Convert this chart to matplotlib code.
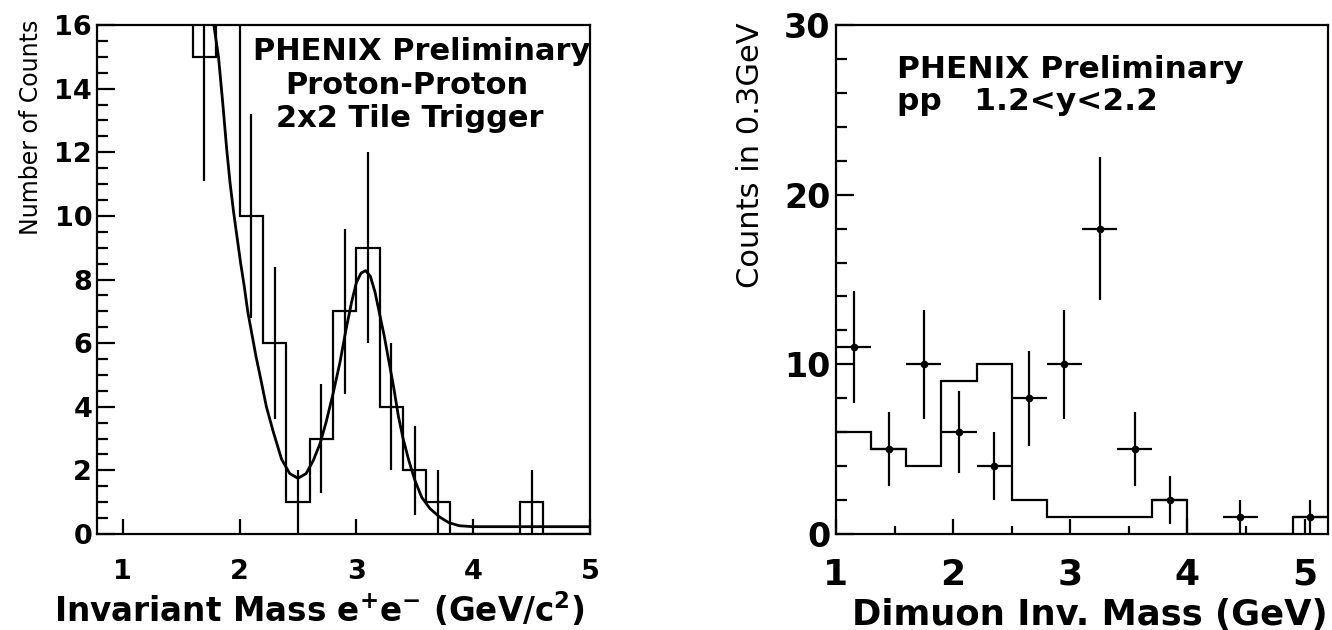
import matplotlib
matplotlib.use("Agg")
import matplotlib.pyplot as plt
from matplotlib.ticker import MultipleLocator, FixedLocator

plt.rcParams["font.family"] = ["DejaVu Sans"]
plt.rcParams["mathtext.default"] = "bf"

# ---- e+e- invariant mass (left) ----
ee_edges = [1.4, 1.6, 1.8, 2.0, 2.2, 2.4, 2.6, 2.8, 3.0, 3.2, 3.4, 3.6,
            3.8, 4.0, 4.2, 4.4, 4.6, 4.8, 5.0]
ee_counts = [24, 15, 22, 10, 6, 1, 3, 7, 9, 4, 2, 1, 0, 0, 0, 1, 0, 0]
ee_errors = [4.9, 3.9, 4.7, 3.2, 2.4, 1.0, 1.7, 2.6, 3.0, 2.0, 1.4, 1.0,
             0, 0, 0, 1.0, 0, 0]

# fitted curve (exponential continuum + J/psi peak + flat background)
fit_mass = [1.76, 1.78, 1.82, 1.86, 1.89, 1.92, 1.95, 1.98, 2.01, 2.04,
            2.07, 2.10, 2.14, 2.18, 2.23, 2.29, 2.36, 2.43, 2.50, 2.57,
            2.63, 2.69, 2.74, 2.80, 2.86, 2.91, 2.96, 3.00, 3.04, 3.08,
            3.12, 3.16, 3.20, 3.24, 3.28, 3.32, 3.36, 3.40, 3.45, 3.50,
            3.56, 3.63, 3.71, 3.79, 3.88, 4.00, 5.00]
fit_counts = [16.6, 16.0, 15.0, 13.4, 12.1, 11.0, 10.1, 9.3, 8.5, 7.8,
              7.0, 6.4, 5.6, 4.9, 4.0, 3.2, 2.35, 1.9, 1.75, 1.9,
              2.3, 2.85, 3.5, 4.4, 5.4, 6.4, 7.3, 7.9, 8.2, 8.28,
              8.1, 7.6, 6.9, 6.2, 5.4, 4.6, 3.7, 3.0, 2.3, 1.7,
              1.15, 0.8, 0.54, 0.36, 0.26, 0.23, 0.23]

# ---- dimuon invariant mass (right) ----
mu_edges = [1.0, 1.3, 1.6, 1.9, 2.2, 2.5, 2.8, 3.1, 3.4, 3.7, 4.0, 4.3,
            4.6, 4.9, 5.2]
mu_expected = [6, 5, 4, 9, 10, 2, 1, 1, 1, 2, 0, 0, 0, 1]
mu_mass = [1.15, 1.45, 1.75, 2.05, 2.35, 2.65, 2.95, 3.25, 3.55, 3.85,
           4.45, 5.05]
mu_counts = [11, 5, 10, 6, 4, 8, 10, 18, 5, 2, 1, 1]
mu_errors = [3.3, 2.2, 3.2, 2.4, 2.0, 2.8, 3.2, 4.2, 2.2, 1.4, 1.0, 1.0]
mu_halfbin = 0.15

W, H = 1332, 630
fig = plt.figure(figsize=(W / 100, H / 100), dpi=100)

LW = 1.6


def px_axes(x0, y0, x1, y1):
    return fig.add_axes([x0 / W, 1 - y1 / H, (x1 - x0) / W, (y1 - y0) / H])


def style_axes(ax, ytick_size, xtick_size, pad_y, pad_x):
    for s in ax.spines.values():
        s.set_linewidth(LW)
    ax.tick_params(which="both", direction="in", top=False, right=False,
                   width=LW)
    ax.tick_params(axis="y", which="major", length=13, labelsize=ytick_size,
                   pad=pad_y)
    ax.tick_params(axis="y", which="minor", length=8)
    ax.tick_params(axis="x", which="major", length=11, labelsize=xtick_size,
                   pad=pad_x)
    ax.tick_params(axis="x", which="minor", length=6)
    for lab in ax.get_xticklabels() + ax.get_yticklabels():
        lab.set_fontweight("bold")


# left panel
ax1 = px_axes(97, 25, 590, 534)
ax1.stairs(ee_counts, ee_edges, baseline=None, color="black", linewidth=LW)
centers = [(a + b) / 2 for a, b in zip(ee_edges[:-1], ee_edges[1:])]
sel = [i for i, c in enumerate(ee_counts) if c > 0]
ax1.errorbar([centers[i] for i in sel], [ee_counts[i] for i in sel],
             yerr=[ee_errors[i] for i in sel], fmt="none", ecolor="black",
             elinewidth=LW, capsize=0)
ax1.plot(fit_mass, fit_counts, color="black", linewidth=LW + 0.4)
ax1.set_xlim(0.78, 5.0)
ax1.set_ylim(0, 16)
ax1.xaxis.set_major_locator(FixedLocator([1, 2, 3, 4, 5]))
ax1.yaxis.set_major_locator(MultipleLocator(2))
ax1.yaxis.set_minor_locator(MultipleLocator(0.5))
style_axes(ax1, 19.5, 19.5, 3.5, 18)

ax1.set_ylabel("Number of Counts", fontsize=17, loc="top")
ax1.yaxis.set_label_coords(-0.11, 1.01)
ax1.set_xlabel(r"Invariant Mass e$^{+}$e$^{-}$ (GeV/c$^{2}$)", fontsize=23.5,
               fontweight="bold", loc="right")
ax1.xaxis.set_label_coords(0.99, -0.11)

ax1.text(0.658, 0.931, "PHENIX Preliminary", transform=ax1.transAxes,
         ha="center", va="baseline", fontsize=22, fontweight="bold")
ax1.text(0.629, 0.864, "Proton-Proton", transform=ax1.transAxes,
         ha="center", va="baseline", fontsize=22, fontweight="bold")
ax1.text(0.635, 0.799, "2x2 Tile Trigger", transform=ax1.transAxes,
         ha="center", va="baseline", fontsize=22, fontweight="bold")

# right panel
ax2 = px_axes(836, 25, 1328, 534)
ax2.stairs(mu_expected, mu_edges, baseline=None, color="black",
           linewidth=LW)
ax2.errorbar(mu_mass, mu_counts, xerr=mu_halfbin, yerr=mu_errors, fmt="o",
             color="black", markersize=4.5, elinewidth=LW, capsize=0)
ax2.set_xlim(1.0, 5.2)
ax2.set_ylim(0, 30)
ax2.xaxis.set_major_locator(MultipleLocator(1))
ax2.xaxis.set_minor_locator(MultipleLocator(0.5))
ax2.yaxis.set_major_locator(MultipleLocator(10))
ax2.yaxis.set_minor_locator(MultipleLocator(2))
style_axes(ax2, 24, 26, 4, 17)

ax2.set_ylabel("Counts in 0.3GeV", fontsize=22, loc="top")
ax2.yaxis.set_label_coords(-0.144, 1.006)
ax2.set_xlabel("Dimuon Inv. Mass (GeV)", fontsize=25.5, fontweight="bold",
               loc="right")
ax2.xaxis.set_label_coords(1.0, -0.125)

ax2.text(0.124, 0.895, "PHENIX Preliminary", transform=ax2.transAxes,
         ha="left", va="baseline", fontsize=22.5, fontweight="bold")
ax2.text(0.124, 0.833, "pp   1.2<y<2.2", transform=ax2.transAxes,
         ha="left", va="baseline", fontsize=22.5, fontweight="bold")

fig.savefig("out.png", dpi=100)
